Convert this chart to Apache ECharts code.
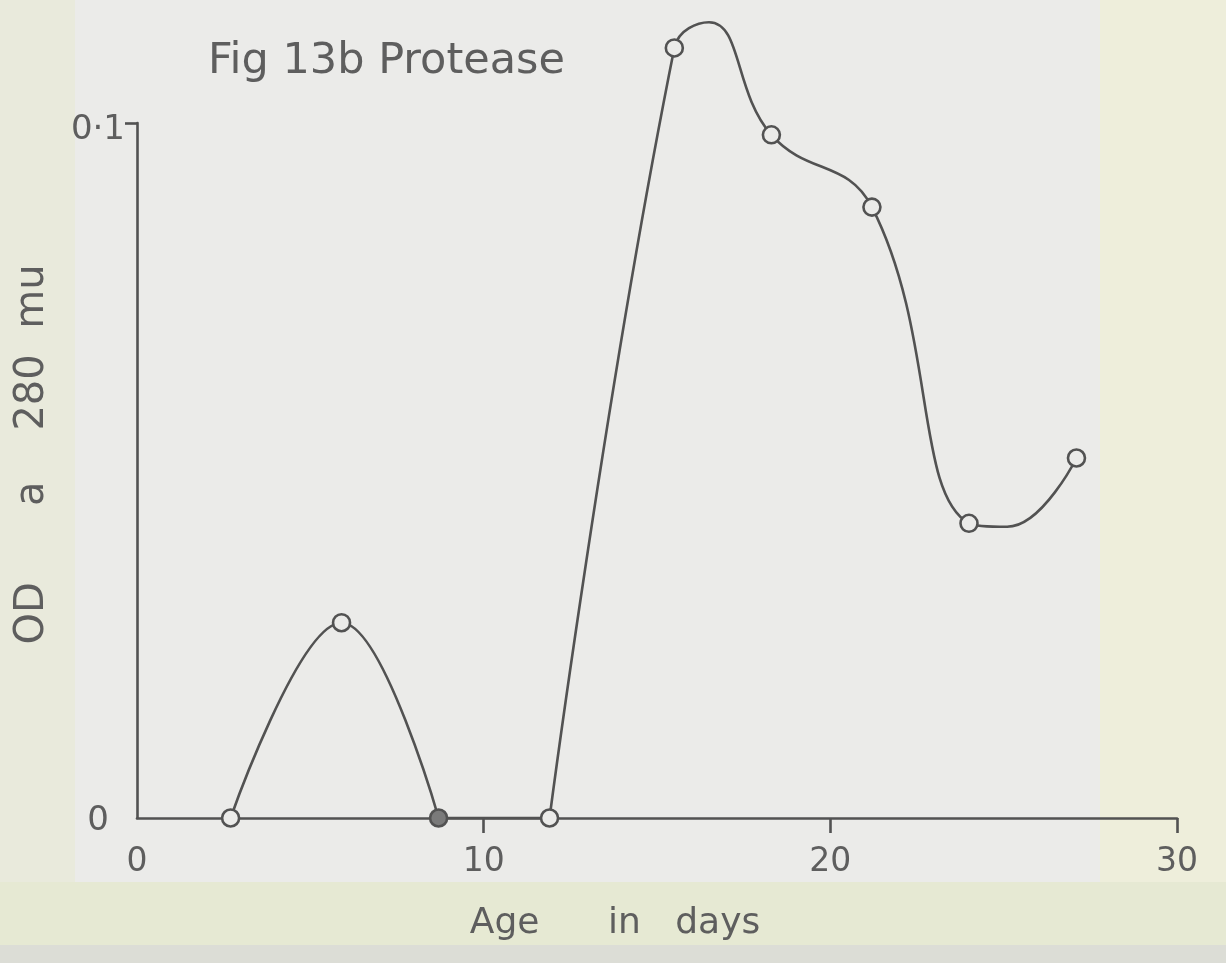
<!DOCTYPE html>
<html>
<head>
<meta charset="utf-8">
<title>Fig 13b Protease</title>
<script src="https://cdn.jsdelivr.net/npm/echarts@6/dist/echarts.min.js"></script>
<style>
  html, body { margin: 0; padding: 0; }
  body {
    width: 1226px; height: 963px; overflow: hidden;
    background:
      linear-gradient(#dcddd6, #dcddd6) 0 945px / 1226px 18px no-repeat,
      linear-gradient(#e6e9d3, #e6e9d3) 0 882px / 1226px 63px no-repeat,
      linear-gradient(#eeeedb, #eeeedb) 1100px 0 / 126px 882px no-repeat,
      linear-gradient(#e9eadc, #e9eadc) 0 0 / 75px 882px no-repeat,
      #ebebe9;
  }
  #chart { width: 1226px; height: 963px; }
</style>
</head>
<body>
<div id="chart"></div>
<script>
// Protease activity (OD at 280 mu) against age in days
const ageDays = [2.7, 5.9, 8.7, 11.9, 15.5, 18.3, 21.2, 24.0, 27.1];
const odValues = [0, 0.0281, 0, 0, 0.1108, 0.0983, 0.0879, 0.0424, 0.0518];

// extra points along the drawn curve (crest after day 15, trough after day 24)
const curveDays = [16.5, 25.1];
const curveValues = [0.1145, 0.0419];

// the hand-drawn curve has corners at these measured points (days 9 and 12)
const cornerDays = [8.7, 11.9];

const xTickValues = [10, 20, 30];
const xTickLabels = ['0', '10', '20', '30'];
const yTickLabels = ['0', '0·1'];

// the day-9 circle is inked in solid
const solidDays = [8.7];

const ink = '#525252';
const textInk = '#5e5e5e';
const paper = '#ebebe9';
const font = 'DejaVu Sans';

const points = ageDays.map((d, i) => [d, odValues[i]]);
const curve = points
  .concat(curveDays.map((d, i) => [d, curveValues[i]]))
  .sort((a, b) => a[0] - b[0]);

// split the curve into separately smoothed pieces at the corners
const pieces = [];
let piece = [];
curve.forEach(p => {
  piece.push(p);
  if (cornerDays.includes(p[0])) {
    pieces.push(piece);
    piece = [p];
  }
});
pieces.push(piece);

const curveSeries = pieces.map((data, i) => ({
  name: 'curve' + i,
  type: 'line',
  data,
  smooth: data.length > 3 ? 0.45 : 0.4,
  showSymbol: false,
  clip: false,
  lineStyle: { color: ink, width: 2.6 },
  z: 2
}));

const chart = echarts.init(document.getElementById('chart'), null, { renderer: 'canvas' });

chart.setOption({
  backgroundColor: 'transparent',
  animation: false,
  title: {
    text: 'Fig 13b Protease',
    left: 203,
    top: 35,
    textStyle: { fontFamily: font, fontSize: 43, fontWeight: 'normal', color: textInk }
  },
  grid: { left: 137, right: 49, top: 123, bottom: 145 },
  xAxis: {
    type: 'value',
    min: 0,
    max: 30,
    interval: 10,
    name: 'Age      in   days',
    nameLocation: 'middle',
    nameGap: 88,
    nameTextStyle: { fontFamily: font, fontSize: 36, color: textInk, padding: [0, 84, 0, 0] },
    axisLine: { show: true, lineStyle: { color: ink, width: 2.6 } },
    axisTick: { show: true, customValues: xTickValues, length: 15, lineStyle: { color: ink, width: 2.6 } },
    axisLabel: {
      margin: 28,
      fontFamily: font,
      fontSize: 33,
      color: textInk,
      formatter: v => xTickLabels[Math.round(v / 10)] ?? ''
    },
    splitLine: { show: false }
  },
  yAxis: {
    type: 'value',
    min: 0,
    max: 0.1,
    interval: 0.1,
    name: 'OD      a    280  mu',
    nameLocation: 'middle',
    nameRotate: 90,
    nameGap: 84,
    nameTextStyle: { fontFamily: font, fontSize: 40, color: textInk, padding: [0, 0, 0, 32] },
    axisLine: { show: true, lineStyle: { color: ink, width: 2.6 } },
    axisTick: { show: true, customValues: [0.1], length: 12, lineStyle: { color: ink, width: 2.6 } },
    axisLabel: {
      margin: 12,
      fontFamily: font,
      fontSize: 34,
      color: textInk,
      formatter: v => (v === 0 ? '{z|' + yTickLabels[0] + '}' : '{t|' + yTickLabels[1] + '}'),
      rich: {
        z: { fontFamily: font, fontSize: 34, color: textInk, padding: [6, 16, 0, 0] },
        t: { fontFamily: font, fontSize: 34, color: textInk, padding: [14, 0, 0, 0] }
      }
    },
    splitLine: { show: false }
  },
  series: curveSeries.concat([
    {
      name: 'protease',
      type: 'scatter',
      data: points.map(p => solidDays.includes(p[0])
        ? { value: p, itemStyle: { color: '#7a7a7a' } }
        : { value: p }),
      symbol: 'circle',
      symbolSize: 17,
      clip: false,
      itemStyle: { color: paper, borderColor: ink, borderWidth: 2.6, opacity: 1 },
      z: 3
    }
  ])
});
</script>
</body>
</html>
